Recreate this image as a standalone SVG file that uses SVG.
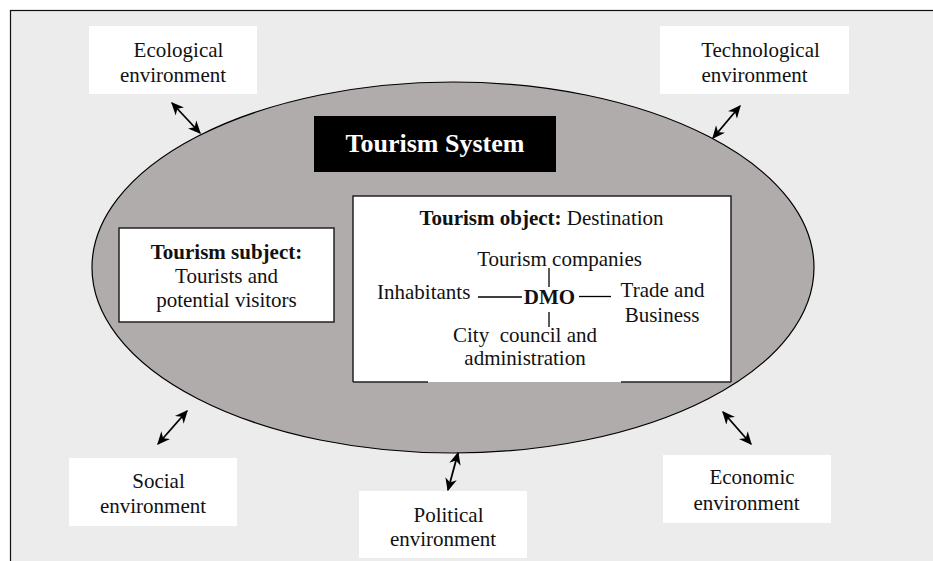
<svg xmlns="http://www.w3.org/2000/svg" width="933" height="561" viewBox="0 0 933 561">
<style>
text{font-family:"Liberation Serif","Times New Roman",serif;font-size:21px;fill:#111;}
.b{font-weight:bold;}
.env{fill:#ffffff;stroke:none;}
.arr{stroke:#000;stroke-width:1.8;fill:none;marker-start:url(#ah);marker-end:url(#ah);}
.ln{stroke:#000;stroke-width:1.3;fill:none;}
</style>
<defs>
<marker id="ah" viewBox="0 0 10 10" refX="9" refY="5" markerWidth="13" markerHeight="13" markerUnits="userSpaceOnUse" orient="auto-start-reverse">
<path d="M0,0.5 L10,5 L0,9.5 L3,5 z" fill="#000"/>
</marker>
</defs>
<rect x="10.5" y="10.5" width="930" height="560" fill="#ececec" stroke="#111" stroke-width="1.2"/>
<g id="tourism-system">
<ellipse cx="453" cy="267.5" rx="361" ry="185.5" fill="#b0acab" stroke="#000" stroke-width="1.2"/>
<rect x="314" y="116" width="242" height="56" fill="#000"/>
<text x="435" y="152" text-anchor="middle" class="b" style="font-size:26px;fill:#fff">Tourism System</text>
</g>
<g id="tourism-subject">
<rect x="119" y="228" width="215" height="94" fill="#fff" stroke="#222" stroke-width="1.5"/>
<text x="226.5" y="259" text-anchor="middle" class="b">Tourism subject:</text>
<text x="226.5" y="283" text-anchor="middle">Tourists and</text>
<text x="226.5" y="307" text-anchor="middle">potential visitors</text>
</g>
<g id="tourism-object">
<rect x="353" y="196" width="378" height="186" fill="#fff"/>
<path d="M353,382 L353,196 L731,196 L731,382 M353,382 L428,382 M621,382 L731,382" stroke="#222" stroke-width="1.5" fill="none"/>
<text x="541.5" y="225" text-anchor="middle"><tspan class="b">Tourism object:</tspan> Destination</text>
<text x="559.5" y="266" text-anchor="middle">Tourism companies</text>
<text x="377" y="299">Inhabitants</text>
<text x="549.5" y="304" text-anchor="middle" class="b">DMO</text>
<text x="662.5" y="297" text-anchor="middle">Trade and</text>
<text x="662" y="322" text-anchor="middle">Business</text>
<text x="525" y="342" text-anchor="middle" xml:space="preserve">City  council and</text>
<text x="525" y="365" text-anchor="middle">administration</text>
<line class="ln" x1="549" y1="268" x2="549" y2="287"/>
<line class="ln" x1="478" y1="297" x2="522" y2="297"/>
<line class="ln" x1="579" y1="296.5" x2="611" y2="296.5"/>
<line class="ln" x1="549" y1="312" x2="549" y2="327"/>
</g>
<g id="ecological">
<rect class="env" x="89" y="26" width="168" height="68"/>
<text x="178.5" y="57" text-anchor="middle">Ecological</text>
<text x="173" y="82" text-anchor="middle">environment</text>
</g>
<g id="technological">
<rect class="env" x="660" y="26" width="189" height="68"/>
<text x="760.5" y="57" text-anchor="middle">Technological</text>
<text x="754.5" y="82" text-anchor="middle">environment</text>
</g>
<g id="social">
<rect class="env" x="69" y="458" width="168" height="68"/>
<text x="158.5" y="488" text-anchor="middle">Social</text>
<text x="153" y="513" text-anchor="middle">environment</text>
</g>
<g id="political">
<rect class="env" x="359" y="491" width="168" height="67"/>
<text x="448.5" y="522" text-anchor="middle">Political</text>
<text x="443" y="546" text-anchor="middle">environment</text>
</g>
<g id="economic">
<rect class="env" x="663" y="455" width="168" height="68"/>
<text x="752" y="484" text-anchor="middle">Economic</text>
<text x="746.5" y="510" text-anchor="middle">environment</text>
</g>
<g id="connectors">
<line class="arr" x1="172" y1="103" x2="200" y2="133"/>
<line class="arr" x1="740" y1="106" x2="713" y2="138"/>
<line class="arr" x1="187" y1="411" x2="158" y2="444"/>
<line class="arr" x1="458" y1="453" x2="448" y2="490"/>
<line class="arr" x1="723" y1="412" x2="751" y2="444"/>
</g>
</svg>
